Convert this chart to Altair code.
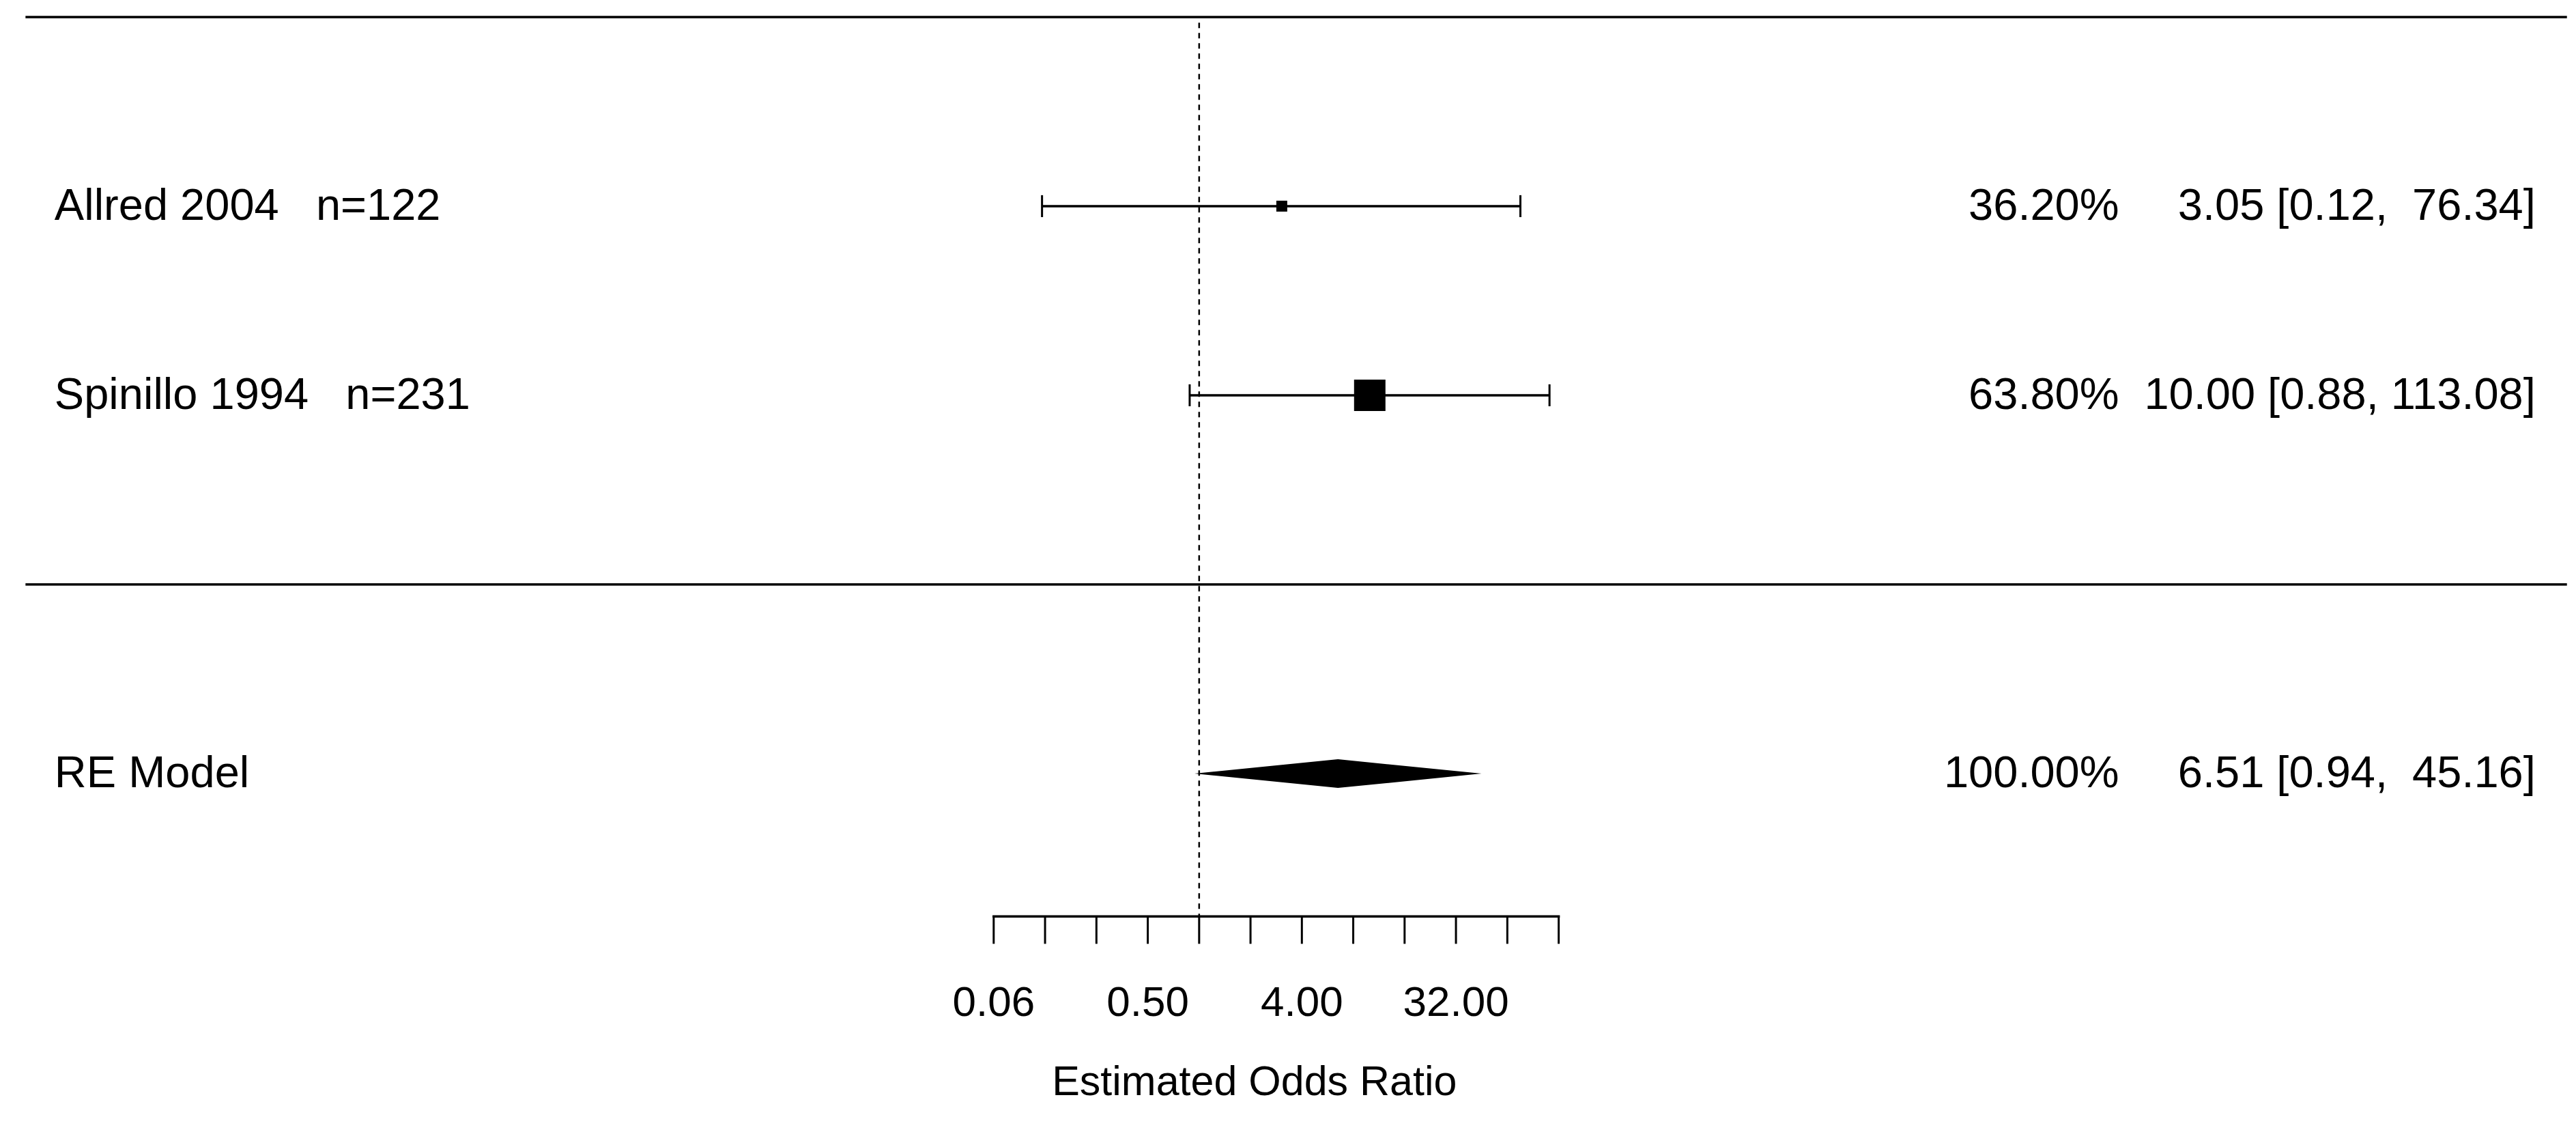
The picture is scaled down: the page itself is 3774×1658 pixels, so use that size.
import numpy as np
import pandas as pd
import altair as alt

# ---------------- data ----------------
studies = ["Allred 2004", "Spinillo 1994"]
n_values = [122, 231]
or_est = [3.05, 10.00]
ci_lower = [0.12, 0.88]
ci_upper = [76.34, 113.08]
weights = [36.20, 63.80]
rows = [2, 1]

model_label = "RE Model"
model_est = 6.51
model_lower = 0.94
model_upper = 45.16
model_weight = 100.00
model_row = -1

tick_exponents = list(range(-4, 8))
tick_labels = {-4: "0.06", -1: "0.50", 2: "4.00", 5: "32.00"}
x_title = "Estimated Odds Ratio"

# ---------------- layout constants (row / log2 units) ----------------
W, H = 3758, 1642
x_dom = [-23.24, 26.70]
y_dom = [-2.866, 3.061]
xlim = [-22.85, 26.63]
top_row = 3
axis_row = -1.755
tick_end_row = -1.90
ticklab_row = -2.28
title_row = -2.70
title_x = 1.076
cap_half = 0.058
dia_half = 0.076
label_x = -22.285
weight_x = 17.91
ci_x = 26.02
FONT = "Liberation Sans"
NB = "\u00a0"
GAP = 3

xs = alt.Scale(domain=x_dom, nice=False, zero=False)
ys = alt.Scale(domain=y_dom, nice=False, zero=False)


def X(f, **kw):
    return alt.X(f, type="quantitative", scale=xs, axis=None, **kw)


def Y(f, **kw):
    return alt.Y(f, type="quantitative", scale=ys, axis=None, **kw)


def fmt_ci(e, lo, up):
    s = f"{e:.2f} [{lo:.2f}, {up:>6.2f}]"
    return s.replace(" ", NB)


study_df = pd.DataFrame({
    "study": studies,
    "n": n_values,
    "est": or_est,
    "lo": ci_lower,
    "up": ci_upper,
    "w": weights,
    "row": rows,
})
study_df["lest"] = np.log2(study_df["est"])
study_df["llo"] = np.log2(study_df["lo"])
study_df["lup"] = np.log2(study_df["up"])
study_df["label"] = [f"{s}{NB * GAP}n={n}" for s, n in zip(studies, n_values)]
study_df["wtxt"] = [f"{w:.2f}%" for w in weights]
study_df["citxt"] = [fmt_ci(e, l, u) for e, l, u in zip(or_est, ci_lower, ci_upper)]
study_df["ylo"] = study_df["row"] - cap_half
study_df["yhi"] = study_df["row"] + cap_half

model_df = pd.DataFrame({
    "label": [model_label],
    "row": [model_row],
    "wtxt": [f"{model_weight:.2f}%"],
    "citxt": [fmt_ci(model_est, model_lower, model_upper)],
})

dia_df = pd.DataFrame({
    "xv": np.log2([model_lower, model_est, model_upper]),
    "ytop": [model_row, model_row + dia_half, model_row],
    "ybot": [model_row, model_row - dia_half, model_row],
})

hline_df = pd.DataFrame({"row": [top_row, 0]})
hline_df["x1"] = xlim[0]
hline_df["x2"] = xlim[1]

ref_df = pd.DataFrame({"x": [0.0], "y1": [top_row - 0.03], "y2": [axis_row]})

caps_df = pd.concat([
    study_df[["llo", "ylo", "yhi"]].rename(columns={"llo": "cx"}),
    study_df[["lup", "ylo", "yhi"]].rename(columns={"lup": "cx"}),
])

axis_df = pd.DataFrame({"x1": [tick_exponents[0]], "x2": [tick_exponents[-1]], "y": [axis_row]})
ticks_df = pd.DataFrame({"x": tick_exponents, "y1": axis_row, "y2": tick_end_row})
ticklab_df = pd.DataFrame({"x": list(tick_labels.keys()), "t": list(tick_labels.values()), "y": ticklab_row})
title_df = pd.DataFrame({"x": [title_x], "y": [title_row], "t": [x_title]})

hlines = alt.Chart(hline_df).mark_rule(color="black", strokeWidth=3.5, strokeCap="butt").encode(
    x=X("x1"), x2="x2", y=Y("row"))
refline = alt.Chart(ref_df).mark_rule(color="black", strokeWidth=2.5, strokeDash=[8, 7]).encode(
    x=X("x"), y=Y("y1"), y2="y2")
ci_lines = alt.Chart(study_df).mark_rule(color="black", strokeWidth=3.5).encode(
    x=X("llo"), x2="lup", y=Y("row"))
caps = alt.Chart(caps_df).mark_rule(color="black", strokeWidth=3).encode(
    x=X("cx"), y=Y("ylo"), y2="yhi")
squares = alt.Chart(study_df).mark_square(color="black", filled=True, opacity=1).encode(
    x=X("lest"), y=Y("row"),
    size=alt.Size("w", type="quantitative",
                  scale=alt.Scale(domain=[36.2, 63.8], range=[256, 2116]), legend=None))
diamond = alt.Chart(dia_df).mark_area(color="black", opacity=1, interpolate="linear",
                                      orient="vertical").encode(
    x=X("xv"), y=Y("ytop", stack=None), y2="ybot")

txt_kw = dict(font=FONT, fontSize=65, color="black", baseline="alphabetic", dy=20)
all_rows = pd.concat([study_df[["label", "row", "wtxt", "citxt"]], model_df])
all_rows["lx"] = label_x
all_rows["wx"] = weight_x
all_rows["cix"] = ci_x

labels = alt.Chart(all_rows).mark_text(align="left", **txt_kw).encode(
    x=X("lx"), y=Y("row"), text="label")
wtext = alt.Chart(all_rows).mark_text(align="right", **txt_kw).encode(
    x=X("wx"), y=Y("row"), text="wtxt")
citext = alt.Chart(all_rows).mark_text(align="right", **txt_kw).encode(
    x=X("cix"), y=Y("row"), text="citxt")

axis_line = alt.Chart(axis_df).mark_rule(color="black", strokeWidth=3.5, strokeCap="square").encode(
    x=X("x1"), x2="x2", y=Y("y"))
ticks = alt.Chart(ticks_df).mark_rule(color="black", strokeWidth=3).encode(
    x=X("x"), y=Y("y1"), y2="y2")
ticklabs = alt.Chart(ticklab_df).mark_text(font=FONT, fontSize=62, color="black",
                                            align="center", baseline="alphabetic").encode(
    x=X("x"), y=Y("y"), text="t")
title = alt.Chart(title_df).mark_text(font=FONT, fontSize=61, color="black",
                                       align="center", baseline="alphabetic").encode(
    x=X("x"), y=Y("y"), text="t")

chart = alt.layer(
    hlines, refline, ci_lines, caps, squares, diamond, labels, wtext, citext,
    axis_line, ticks, ticklabs, title
).properties(
    width=W, height=H, padding=0, autosize=alt.AutoSizeParams(type="none"),
    background="white"
).configure_view(stroke=None)

chart.save("out.html", embed_options={"renderer": "svg", "actions": False})
